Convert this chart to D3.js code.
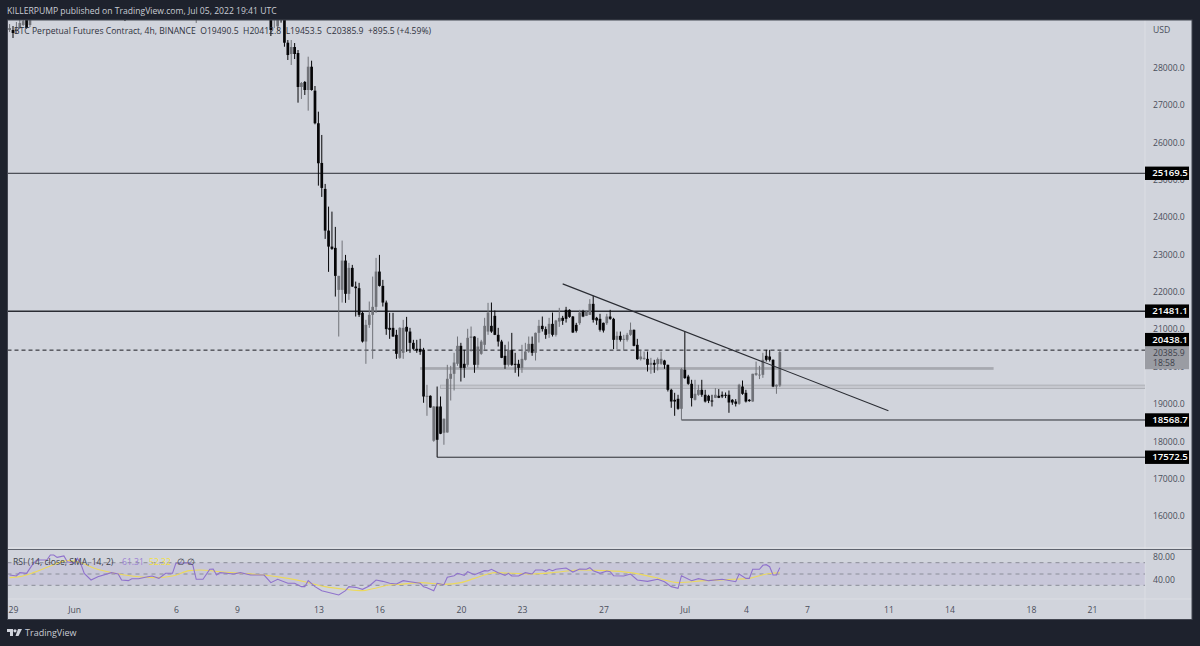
<!DOCTYPE html>
<html>
<head>
<meta charset="utf-8">
<title>BTC Perpetual Futures Contract, 4h</title>
<script src="https://cdn.jsdelivr.net/npm/d3@7"></script>
<style>
    html, body { margin: 0; padding: 0; background: #1e222d; }
    svg { display: block; }
    text { font-family: "Open Sans", sans-serif; }
</style>
</head>
<body>
<div id="chart"></div>
<script>
// Candles, counted in 4h bars from May 29 00:00 UTC
const candleBars = [-1, 0, 1, 2, 3, 4, 5, 6, 33, 54].concat(d3.range(76, 227));
const barOpen = [
    29003,29003,28976,29056,29137,29300,29137,29350,29700,29600,
    29600,29300,29100,29700,29500,28663,28361,28548,28388,27479,
    27612,27398,28021,27380,26508,25446,24751,23636,23208,23174,
    22050,22050,22834,21944,22639,22139,22096,21435,20668,21114,
    21382,21596,22540,22157,21711,21034,21034,20847,20232,20366,
    21061,20935,20633,20473,20473,20446,19189,19216,18013,18930,
    18930,18227,18235,19671,19804,20072,20553,20072,20045,20767,
    20802,20045,20339,20580,20935,21088,21355,20847,20668,20286,
    20045,20446,20072,20072,19964,20179,20400,20606,20366,20900,
    21088,21000,20874,21141,20847,21203,21302,21516,21516,21337,
    21114,21160,21470,21355,21382,21676,21302,21275,21168,21160,
    21337,21275,20713,20820,20713,20713,20847,20981,20580,20197,
    20205,20205,20045,20098,20063,20072,20160,20045,19376,19109,
    19136,18868,19911,19732,19537,19109,19243,19376,19243,19216,
    19090,19162,19216,19243,19243,19243,19109,19063,19002,19464,
    19296,19109,19063,19777,19766,19777,20286,20267,20179,19464,19490.5
];
const barHigh = [
    29163,29110,29217,29400,29500,29500,29600,29800,29900,29900,
    29900,29800,29800,29900,29700,28735,28735,28655,28468,27612,
    27639,28289,28182,27505,26818,26195,24885,24278,24144,23735,
    22425,23369,22986,22772,22719,22272,22238,21470,21248,21738,
    22406,22906,22986,22318,21764,21435,21435,20981,21050,21248,
    21328,21034,20713,20713,20740,20499,19510,19229,18940,19464,
    19197,18610,20045,20018,20366,20802,20633,20446,21008,21069,
    20810,20767,20713,21302,21703,21711,21497,21034,20713,20580,
    20668,20900,20366,20179,20580,20633,20802,20802,20908,21248,
    21337,21069,21302,21443,21248,21569,21355,21596,21530,21350,
    21168,21516,21516,21497,21802,21890,21328,21409,21176,21409,
    21516,21302,20935,20935,20847,20900,21176,20990,20740,20427,
    20400,20400,20232,20179,20240,20400,20179,20050,19403,19296,
    19243,19964,20935,19777,19644,19644,19510,19644,19376,19243,
    19243,19422,19395,19331,19305,19358,19127,19127,19537,19625,
    19376,19127,19805,20133,20018,20366,20446,20446,20190,19520,20412
];
const barLow = [
    28949,28789,28896,29030,29110,29040,29083,29300,29243,29190,
    28842,29056,29000,29200,28556,28201,28067,28227,27059,27158,
    27265,26845,27380,26480,24839,24537,23414,22532,23120,21871,
    20802,21711,21703,21783,22131,21337,21328,20641,20072,21034,
    20205,21435,22139,21604,20847,20740,20794,20205,20205,20205,
    20393,20366,20446,20366,20312,19029,18681,18895,17986,17572.5,
    18190,17906,18230,19090,19358,20018,19598,19697,19991,20400,
    19831,19964,20312,20446,20847,20900,20840,20534,20224,19938,
    19999,20018,19831,19732,19831,20160,20366,20286,20160,20641,
    20935,20740,20767,20802,20802,21061,21114,21176,21302,20900,
    20909,21114,21320,21350,21380,21176,21114,20935,20909,21114,
    21248,20465,20465,20668,20427,20668,20820,20540,20179,20160,
    20179,19866,19805,19831,19892,20045,19938,19331,18895,18681,
    18842,18568.7,19670,19510,18930,19090,19216,19189,19037,19021,
    18930,19155,19155,19155,19155,18761,18975,18930,18975,19243,
    19037,19056,19056,19750,19663,19697,20133,20133,19448,19270,19453.5
];
const barClose = [
    29056,28923,29030,29190,29240,29056,29350,29700,29500,29700,
    29003,29600,29600,29280,28663,28334,28548,28361,27479,27586,
    27398,28021,27398,26508,25438,24778,23636,23208,23147,22425,
    22425,22834,21944,22639,22139,22096,21382,20668,21114,21382,
    21596,22540,22157,21711,21000,20981,20802,20339,21034,21034,
    20935,20633,20473,20427,20393,19197,19216,18903,18930,18039,
    18200,18601,19671,19804,20107,20553,19964,19964,20767,20802,
    20045,20534,20668,21088,21443,20935,20847,20668,20232,20045,
    20446,20045,20045,19964,20205,20400,20606,20366,20900,21088,
    21000,20847,21141,20847,21230,21302,21222,21275,21328,20909,
    20954,21443,21337,21470,21676,21248,21230,20981,20962,21337,
    21275,20713,20820,20713,20740,20847,20981,20553,20197,20267,
    20232,20045,20098,20045,20197,20205,20045,19376,19063,19063,
    18868,19930,19689,19537,19155,19270,19376,19243,19063,19082,
    19063,19243,19162,19197,19216,19037,19037,19002,19510,19269,
    19063,19075,19805,19823,19782,20179,20179,20179,19464,19510,20385.9
];

// RSI pane
const rsiBars = [-1,1,2,4,5,6,7,10,11,12,13,15,16,18,19,20,21,23,25,29,31,32,34,35,37,39,41,43,45,47,48,52,53,54,56,58,59,60,61,65,67,70,74,76,78,81,83,85,86,87,89,91,96,98,99,101,103,105,107,109,111,113,115,117,120,121,122,124,125,127,128,130,131,133,134,136,139,140,141,143,145,146,147,149,151,153,154,156,157,158,159,160,163,165,167,169,170,171,173,175,176,177,180,182,184,187,190,192,194,196,197,200,202,205,209,213,214,216,217,218,220,221,222,223,224,225,226];
const rsiValues = [48.2,46.5,52.4,51.2,60,68.9,74.8,74.8,83.6,83.6,79.5,81.9,71.8,68.9,77.7,67.7,51.2,39.4,45.3,52.4,50,39.4,38.2,41.7,41.7,44.1,46.5,42.3,51.2,51.2,68.9,70,65.9,40.6,40.6,58.3,58.9,48.2,52.4,50,52.4,48.2,48.2,34.7,40.6,33.5,33.5,27.6,27.6,38.2,27.6,20.5,12.8,20.5,27.6,26.4,22.9,28.8,39.4,37,33.5,32.3,38.2,36.4,33.5,27.6,25.8,20.5,33.5,31.1,44.1,47,51.2,47.6,54.1,48.8,55.9,55.3,58.3,52.4,47.6,51.2,46.5,46.5,52.4,50,57.1,57.1,54.7,58.3,55.9,58.3,60.6,53.5,58.9,58.3,61.2,55.9,51.2,55.3,54.1,47,46.5,50,39.4,37,40.6,36.4,27.6,24.6,47,38.2,41.7,38.2,40.6,36.4,50,42.3,42.3,58.3,58.3,65.4,66.5,62.9,48.2,48.2,61.31];
const smaBars = [-1,2,6,11,16,20,24,30,35,42,47,52,55,61,67,74,81,86,92,98,103,106,111,114,120,127,132,136,140,142,147,153,160,167,175,182,189,196,204,212,217,222,226];
const smaValues = [43.5,45.3,52.4,64.2,73.6,70,60,51.2,46.5,43.5,46.5,55.9,57.1,54.1,51.2,48.2,42.3,36.4,27.6,22.9,20.5,24,30.5,31.7,34.7,31.7,34.7,42.3,50,52.4,51.2,50,53,57.1,55.9,52.4,44.1,34.7,38.2,40.6,42.3,50,52.32];
const rsiLevels = [70, 50, 30];
const rsiTicks = [80, 40];

// Axis ticks
const priceTicks = [16000,17000,18000,19000,20000,21000,22000,23000,24000,25000,26000,27000,28000];
const timeTicks = ["2022-05-29","2022-06-01","2022-06-06","2022-06-09","2022-06-13","2022-06-16","2022-06-20","2022-06-23","2022-06-27","2022-07-01","2022-07-04","2022-07-07","2022-07-11","2022-07-14","2022-07-18","2022-07-21"];
const timeLabels = ["29","Jun","6","9","13","16","20","23","27","Jul","4","7","11","14","18","21"];

// Drawings
const levelPrices = [25169.5, 21481.1, 18568.7, 17572.5];
const levelStartBars = [-3, -3, 197, 125];
const levelWidths = [1, 1.5, 1, 1];
const lastLevel = 20438.1;
const zoneTops = [19984, 19502];
const zoneBottoms = [19911, 19411];
const zoneStartBars = [120, 126];
const zoneEndBars = [289, 350];
const trendBars = [162, 258];
const trendPrices = [22211, 18815];

// Price tags on the right axis, the 20438.1 one pushed up by the current price tag
const tagPrices = [25169.5, 21481.1, 20438.1, 18568.7, 17572.5];
const tagShift = [0, 0, -10.5, 0, 0];

const width = 1200, height = 646;
const plotLeft = 7.5, plotRight = 1192, axisX = 1145, plotTop = 20, paneBottom = 549.5, rsiBottom = 599, plotBottom = 619.5;
const textDark = "#4a4e5a";
const labelSize = "8.6px";

const start = Date.UTC(2022, 4, 29);
const barTime = b => new Date(start + b * 4 * 3600 * 1000);

const x = d3.scaleUtc()
    .domain([new Date("2022-05-29"), new Date("2022-07-21")])
    .range([13, 1092]);
const y = d3.scaleLinear()
    .domain([16000, 28000])
    .range([516, 67.5]);
const rsiY = d3.scaleLinear()
    .domain([30, 70])
    .range([585.3, 562.7]);

const svg = d3.select("#chart").append("svg")
    .attr("width", width)
    .attr("height", height);

svg.append("rect").attr("width", width).attr("height", height).attr("fill", "#1e222d");
svg.append("rect")
    .attr("x", plotLeft).attr("y", plotTop)
    .attr("width", plotRight - plotLeft).attr("height", plotBottom - plotTop)
    .attr("fill", "#d1d4dc");

const defs = svg.append("defs");
defs.append("clipPath").attr("id", "main-clip").append("rect")
    .attr("x", plotLeft).attr("y", plotTop)
    .attr("width", axisX - plotLeft).attr("height", paneBottom - plotTop);
defs.append("clipPath").attr("id", "rsi-clip").append("rect")
    .attr("x", plotLeft).attr("y", paneBottom)
    .attr("width", axisX - plotLeft).attr("height", rsiBottom - paneBottom);

// Pane separators
svg.append("line").attr("x1", axisX).attr("x2", axisX).attr("y1", plotTop).attr("y2", plotBottom)
    .attr("stroke", "#dcdee4");
svg.append("line").attr("x1", plotLeft).attr("x2", plotRight).attr("y1", rsiBottom).attr("y2", rsiBottom)
    .attr("stroke", "#dcdee4");
svg.append("line").attr("x1", plotLeft).attr("x2", plotRight).attr("y1", paneBottom - 1.5).attr("y2", paneBottom - 1.5)
    .attr("stroke", "#e6e7eb");
svg.append("line").attr("x1", plotLeft).attr("x2", plotRight).attr("y1", paneBottom).attr("y2", paneBottom)
    .attr("stroke", "#5f636e").attr("stroke-width", 1.2);

const main = svg.append("g").attr("clip-path", "url(#main-clip)");

// Zones
main.selectAll("rect.zone")
    .data(zoneTops)
    .enter()
    .append("rect")
    .attr("class", "zone")
    .attr("x", (d, i) => x(barTime(zoneStartBars[i])))
    .attr("y", d => y(d))
    .attr("width", (d, i) => x(barTime(zoneEndBars[i])) - x(barTime(zoneStartBars[i])))
    .attr("height", (d, i) => y(zoneBottoms[i]) - y(d))
    .attr("fill", (d, i) => i === 0 ? "#a7a9b0" : "#c6c8cf")
    .attr("stroke", (d, i) => i === 0 ? "none" : "#a7a9b0")
    .attr("stroke-width", 0.8);

// Horizontal levels
main.selectAll("line.level")
    .data(levelPrices)
    .enter()
    .append("line")
    .attr("class", "level")
    .attr("x1", (d, i) => x(barTime(levelStartBars[i])))
    .attr("x2", axisX)
    .attr("y1", d => y(d))
    .attr("y2", d => y(d))
    .attr("stroke", "#2a2c33")
    .attr("stroke-width", (d, i) => levelWidths[i]);

main.append("line")
    .attr("x1", plotLeft).attr("x2", axisX)
    .attr("y1", y(lastLevel)).attr("y2", y(lastLevel))
    .attr("stroke", "#1a1b20")
    .attr("stroke-dasharray", "4,3");

// Candles
const candles = main.selectAll("g.candle")
    .data(candleBars)
    .enter()
    .append("g")
    .attr("class", "candle");
const candleColor = i => barClose[i] >= barOpen[i] ? "#707278" : "#060608";

candles.append("line")
    .attr("x1", d => x(barTime(d)))
    .attr("x2", d => x(barTime(d)))
    .attr("y1", (d, i) => y(barHigh[i]))
    .attr("y2", (d, i) => y(barLow[i]))
    .attr("stroke", (d, i) => candleColor(i))
    .attr("stroke-width", 1);

candles.append("rect")
    .attr("x", d => x(barTime(d)) - 1.35)
    .attr("width", 2.7)
    .attr("y", (d, i) => y(Math.max(barOpen[i], barClose[i])))
    .attr("height", (d, i) => Math.max(0.8, Math.abs(y(barOpen[i]) - y(barClose[i]))))
    .attr("fill", (d, i) => candleColor(i));

// Trend line
main.append("line")
    .attr("x1", x(barTime(trendBars[0]))).attr("y1", y(trendPrices[0]))
    .attr("x2", x(barTime(trendBars[1]))).attr("y2", y(trendPrices[1]))
    .attr("stroke", "#2a2c33")
    .attr("stroke-width", 1.1);

// RSI pane
const rsiPane = svg.append("g").attr("clip-path", "url(#rsi-clip)");

rsiPane.append("rect")
    .attr("x", plotLeft).attr("width", axisX - plotLeft)
    .attr("y", rsiY(70)).attr("height", rsiY(30) - rsiY(70))
    .attr("fill", "#7e57c2").attr("fill-opacity", 0.1);

rsiPane.selectAll("line.rsi-level")
    .data(rsiLevels)
    .enter()
    .append("line")
    .attr("class", "rsi-level")
    .attr("x1", plotLeft).attr("x2", axisX)
    .attr("y1", d => rsiY(d)).attr("y2", d => rsiY(d))
    .attr("stroke", "#8a8d98")
    .attr("stroke-dasharray", "4,4");

const rsiLine = d3.line()
    .x((d, i) => x(barTime(rsiBars[i])))
    .y(d => rsiY(d));
const smaLine = d3.line()
    .x((d, i) => x(barTime(smaBars[i])))
    .y(d => rsiY(d))
    .curve(d3.curveMonotoneX);

rsiPane.append("path")
    .attr("d", smaLine(smaValues))
    .attr("fill", "none")
    .attr("stroke", "#ecd95c")
    .attr("stroke-width", 1.1);
rsiPane.append("path")
    .attr("d", rsiLine(rsiValues))
    .attr("fill", "none")
    .attr("stroke", "#8f72cc")
    .attr("stroke-width", 1.1);

// Axes
const priceAxis = d3.axisRight(y)
    .tickValues(priceTicks)
    .tickFormat(d3.format(".1f"))
    .tickSize(0)
    .tickPadding(8);
const priceG = svg.append("g").attr("transform", `translate(${axisX},0)`).call(priceAxis);
priceG.select(".domain").remove();
priceG.selectAll("text").attr("fill", textDark).style("font-size", labelSize).style("font-family", '"Open Sans", sans-serif');

const rsiAxis = d3.axisRight(rsiY)
    .tickValues(rsiTicks)
    .tickFormat(d3.format(".2f"))
    .tickSize(0)
    .tickPadding(8);
const rsiG = svg.append("g").attr("transform", `translate(${axisX},0)`).call(rsiAxis);
rsiG.select(".domain").remove();
rsiG.selectAll("text").attr("fill", textDark).style("font-size", labelSize).style("font-family", '"Open Sans", sans-serif');

const timeAxis = d3.axisBottom(x)
    .tickValues(timeTicks.map(d => new Date(d)))
    .tickFormat((d, i) => timeLabels[i])
    .tickSize(0)
    .tickPadding(7.5);
const timeG = svg.append("g").attr("transform", `translate(0,${rsiBottom})`).call(timeAxis);
timeG.select(".domain").remove();
timeG.selectAll("text").attr("fill", textDark).style("font-size", labelSize).style("font-family", '"Open Sans", sans-serif');

svg.append("text").attr("x", 1153).attr("y", 32.5)
    .attr("fill", textDark).style("font-size", labelSize).text("USD");

// Current price tag
svg.append("rect")
    .attr("x", axisX).attr("y", 346.7).attr("width", 44).attr("height", 22.5)
    .attr("fill", "#9a9ca3");
svg.append("text").attr("x", 1153).attr("y", 356)
    .attr("fill", "#3c3f4a").style("font-size", labelSize).text(d3.format(".1f")(barClose[barClose.length - 1]));
svg.append("text").attr("x", 1153).attr("y", 366)
    .attr("fill", "#3c3f4a").style("font-size", labelSize).text("18:58");

// Level tags
const tags = svg.selectAll("g.tag")
    .data(tagPrices)
    .enter()
    .append("g")
    .attr("class", "tag")
    .attr("transform", (d, i) => `translate(${axisX},${y(d) + tagShift[i]})`);
tags.append("rect")
    .attr("x", 0).attr("y", -6.7)
    .attr("width", 44).attr("height", 13.4)
    .attr("fill", "#000");
tags.append("text")
    .attr("x", 25).attr("y", 3.2)
    .attr("text-anchor", "middle")
    .attr("fill", "#fff")
    .style("font-size", "9.6px")
    .style("font-weight", 600)
    .text(d => d3.format(".1f")(d));

// Legends
svg.append("text").attr("x", 7).attr("y", 14)
    .attr("fill", "#c9ccd4").style("font-size", labelSize)
    .text("KILLERPUMP published on TradingView.com, Jul 05, 2022 19:41 UTC");
svg.append("text").attr("x", 14).attr("y", 34)
    .attr("fill", "#2f323c").style("font-size", labelSize)
    .attr("xml:space", "preserve")
    .text("BTC Perpetual Futures Contract, 4h, BINANCE  O19490.5  H20412.8  L19453.5  C20385.9  +895.5 (+4.59%)");

const rsiLegend = svg.append("text").attr("x", 13).attr("y", 564.5)
    .style("font-size", labelSize);
rsiLegend.append("tspan").attr("fill", "#3c3f4a").text("RSI (14, close, SMA, 14, 2)");
rsiLegend.append("tspan").attr("x", 122).attr("fill", "#9a80d2").text(rsiValues[rsiValues.length - 1].toFixed(2));
rsiLegend.append("tspan").attr("x", 149).attr("fill", "#f2e03c").text(smaValues[smaValues.length - 1].toFixed(2));
rsiLegend.append("tspan").attr("x", 177).attr("fill", "#3c3f4a").text("∅");
rsiLegend.append("tspan").attr("x", 187).attr("fill", "#3c3f4a").text("∅");

// Frame edge
svg.append("rect")
    .attr("x", plotLeft).attr("y", plotTop)
    .attr("width", plotRight - plotLeft).attr("height", plotBottom - plotTop)
    .attr("fill", "none").attr("stroke", "#434651").attr("stroke-width", 1);

// Footer logo and name
const logo = svg.append("g").attr("transform", "translate(7,629)").attr("fill", "#d1d4dc");
logo.append("path").attr("d", "M0 0H6V7H3V3H0Z");
logo.append("circle").attr("cx", 8).attr("cy", 1.8).attr("r", 1.6);
logo.append("path").attr("d", "M11 0H15L11.5 7H8.5Z");
svg.append("text").attr("x", 25).attr("y", 636)
    .attr("fill", "#c9ccd4").style("font-size", "9px")
    .text("TradingView");
</script>
</body>
</html>
